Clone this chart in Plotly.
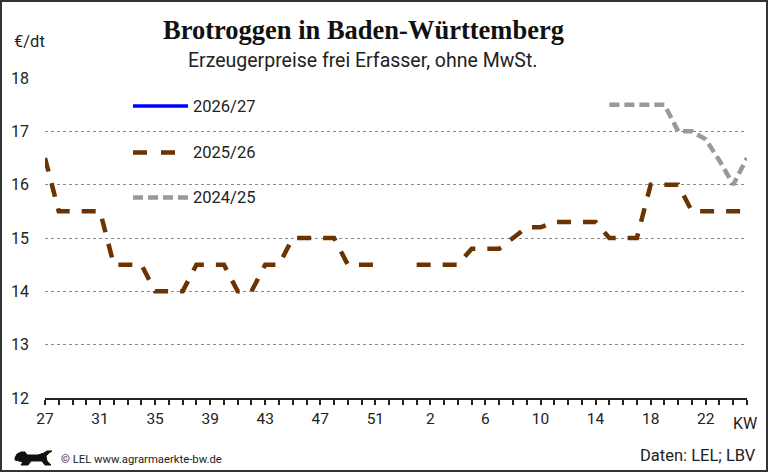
import plotly.graph_objects as go

# ---------------- data ----------------
weeks = [str(w) for w in list(range(27, 54)) + list(range(1, 26))]  # KW 27..53, 1..25
label_every = 4

season_2026_27 = [None] * len(weeks)

season_2025_26 = [16.5, 15.5, 15.5, 15.5, 15.5, 14.5, 14.5, 14.5, 14.0, 14.0,
                  14.0, 14.5, 14.5, 14.5, 14.0, 14.0, 14.5, 14.5, 15.0, 15.0,
                  15.0, 15.0, 14.5, 14.5, 14.5, None, None, 14.5, 14.5, 14.5,
                  14.5, 14.8, 14.8, 14.8, 15.0, 15.2, 15.2, 15.3, 15.3, 15.3,
                  15.3, 15.0, 15.0, 15.0, 16.0, 16.0, 16.0, 15.5, 15.5, 15.5,
                  15.5, 15.5]

season_2024_25 = [None] * 41 + [17.5, 17.5, 17.5, 17.5, 17.5, 17.0, 17.0, 16.85,
                                16.45, 16.0, 16.5]

series_names = ["2026/27", "2025/26", "2024/25"]
y_ticks = [12, 13, 14, 15, 16, 17, 18]

title = "Brotroggen in Baden-Württemberg"
subtitle = "Erzeugerpreise frei Erfasser, ohne MwSt."
unit = "€/dt"
source = "Daten: LEL; LBV"
copyright_txt = "© LEL www.agrarmaerkte-bw.de"

# ---------------- layout helpers ----------------
W, H = 769, 473
ML, MR, MT, MB = 45, 22, 78, 75
PW, PH = W - ML - MR, H - MT - MB


def px(x):
    return (x - ML) / PW


def py(y):
    return (H - MB - y) / PH


BROWN = "#6B3300"
GRAY = "#999999"
BLUE = "#0000FF"
TXT = "#222222"
FONT = "Roboto"

fig = go.Figure()

fig.add_trace(go.Scatter(x=weeks, y=season_2026_27, mode="lines", name=series_names[0],
                         line=dict(color=BLUE, width=3.5), showlegend=False))
fig.add_trace(go.Scatter(x=weeks, y=season_2025_26, mode="lines", name=series_names[1],
                         line=dict(color=BROWN, width=4.5, dash="14px,12px"),
                         connectgaps=False, showlegend=False))
fig.add_trace(go.Scatter(x=weeks, y=season_2024_25, mode="lines", name=series_names[2],
                         line=dict(color=GRAY, width=4.5, dash="10px,5px"),
                         connectgaps=False, showlegend=False))

ticktext = [w if i % label_every == 0 else "" for i, w in enumerate(weeks)]

fig.update_layout(
    width=W, height=H, autosize=False,
    margin=dict(l=ML, r=MR, t=MT, b=MB),
    paper_bgcolor="white", plot_bgcolor="white",
    font=dict(family=FONT, color=TXT, size=16),
    xaxis=dict(type="category", range=[0, len(weeks) - 1],
               tickmode="array", tickvals=weeks, ticktext=ticktext,
               showline=True, linecolor=TXT, linewidth=2,
               ticks="outside", ticklen=5, tickwidth=2, tickcolor=TXT,
               showgrid=False, zeroline=False,
               tickfont=dict(size=15.5, family=FONT, color=TXT)),
    yaxis=dict(range=[12, 18], tickmode="array", tickvals=y_ticks,
               showgrid=True, gridcolor="#8a8a8a", gridwidth=1, griddash="dot",
               zeroline=False, showline=False, ticks="",
               ticklabelstandoff=15,
               tickfont=dict(size=16, family=FONT, color=TXT)),
)

shapes = []
# outer frame
shapes.append(dict(type="rect", xref="paper", yref="paper",
                   x0=px(1), x1=px(767), y0=py(471), y1=py(1),
                   line=dict(color="#333333", width=2), fillcolor="rgba(0,0,0,0)",
                   layer="above"))
# legend samples
leg_y = [106, 152.5, 197.5]
leg_styles = [dict(color=BLUE, width=3.5),
              dict(color=BROWN, width=4.5, dash="14px,14px"),
              dict(color=GRAY, width=4.5, dash="10px,5px")]
for yy, st in zip(leg_y, leg_styles):
    shapes.append(dict(type="line", xref="paper", yref="paper",
                       x0=px(133), x1=px(188), y0=py(yy), y1=py(yy), line=st))

# lion emblem (simple silhouette)
lion = [(15, 458), (17, 454), (21, 452), (25, 452), (27, 455), (38, 455), (44, 453),
        (47, 451), (52, 451), (49, 453), (46, 456), (47, 461), (51, 465), (45, 465),
        (42, 461), (31, 461), (28, 465), (21, 465), (23, 462), (19, 461), (15, 460)]
path = "M " + " L ".join(f"{px(x):.5f},{py(y):.5f}" for x, y in lion) + " Z"
shapes.append(dict(type="path", xref="paper", yref="paper", path=path,
                   fillcolor="#111111", line=dict(color="#111111", width=1)))
fig.update_layout(shapes=shapes)

ann = []
ann.append(dict(text=f"<b>{title}</b>", x=px(363), y=py(30), xref="paper", yref="paper",
                showarrow=False, xanchor="center", yanchor="middle",
                font=dict(family="Liberation Serif", size=26.5, color="#111111")))
ann.append(dict(text=subtitle, x=px(362), y=py(61), xref="paper", yref="paper",
                showarrow=False, xanchor="center", yanchor="middle",
                font=dict(family=FONT, size=19.5, color=TXT)))
ann.append(dict(text=unit, x=px(12), y=py(42), xref="paper", yref="paper",
                showarrow=False, xanchor="left", yanchor="middle",
                font=dict(family=FONT, size=16.5, color=TXT)))
for yy, name in zip(leg_y, series_names):
    ann.append(dict(text=name, x=px(191), y=py(yy), xref="paper", yref="paper",
                    showarrow=False, xanchor="left", yanchor="middle",
                    font=dict(family=FONT, size=16.5, color=TXT)))
ann.append(dict(text="KW", x=px(745), y=py(423), xref="paper", yref="paper",
                showarrow=False, xanchor="center", yanchor="middle",
                font=dict(family=FONT, size=16, color=TXT)))
ann.append(dict(text=source, x=px(758), y=py(455), xref="paper", yref="paper",
                showarrow=False, xanchor="right", yanchor="middle",
                font=dict(family=FONT, size=16.5, color=TXT)))
ann.append(dict(text=copyright_txt, x=px(59), y=py(459), xref="paper", yref="paper",
                showarrow=False, xanchor="left", yanchor="middle",
                font=dict(family=FONT, size=11.3, color=TXT)))
fig.update_layout(annotations=ann)

fig.write_html("out.html")
